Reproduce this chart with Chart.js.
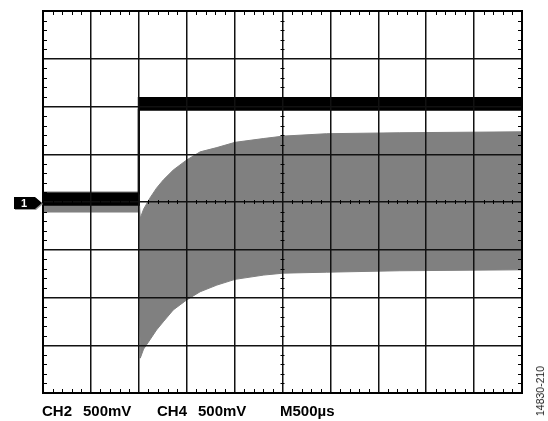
<!DOCTYPE html>
<html>
<head>
<meta charset="utf-8">
<script src="https://cdn.jsdelivr.net/npm/chart.js@4.4.1/dist/chart.umd.min.js"></script>
<style>
  body { margin: 0; background: #fff; }
  #wrap { position: relative; width: 548px; height: 421px; }
  .lbl { position: absolute; font-family: "Liberation Sans", Arial, sans-serif; font-weight: bold; font-size: 15px; color: #000; top: 402px; white-space: nowrap; }
  #figno { position: absolute; left: 540px; top: 391px; font-family: "Liberation Sans", Arial, sans-serif; font-size: 10.5px; color: #222;
           transform: translate(-50%, -50%) rotate(-90deg); white-space: nowrap; }
</style>
</head>
<body>
<div id="wrap">
  <canvas id="scope"></canvas>
  <div class="lbl" style="left:42px">CH2</div>
  <div class="lbl" style="left:83px">500mV</div>
  <div class="lbl" style="left:157px">CH4</div>
  <div class="lbl" style="left:198px">500mV</div>
  <div class="lbl" style="left:280px">M500µs</div>
  <div id="figno">14830-210</div>
</div>
<script>
// time in divisions (500us/div), amplitude in divisions
var ch2Time   = [0, 2.0, 2.0, 10];
var ch2Top    = [0.18, 0.18, 2.18, 2.18];
var ch2Bottom = [-0.06, -0.06, 1.93, 1.93];

var ch4Time  = [0, 2.0, 2.03, 2.1, 2.23, 2.37, 2.51, 2.72, 3.0, 3.28, 3.63, 4.01, 4.61, 5.02, 5.92, 7.45, 10];
var ch4Upper = [0.21, 0.21, -0.34, -0.15, 0.08, 0.29, 0.46, 0.67, 0.88, 1.05, 1.14, 1.25, 1.33, 1.38, 1.43, 1.45, 1.47];
var ch4Lower = [-0.21, -0.21, -3.27, -3.08, -2.89, -2.68, -2.51, -2.26, -2.05, -1.88, -1.74, -1.62, -1.53, -1.49, -1.47, -1.44, -1.42];

var pts = (xs, ys) => xs.map((x, i) => ({ x: x, y: ys[i] }));

var scopeDecor = {
  id: 'scopeDecor',
  afterDraw: (chart) => {
    var ctx = chart.ctx, a = chart.chartArea;
    var sx = chart.scales.x, sy = chart.scales.y;
    ctx.save();
    // frame
    ctx.strokeStyle = '#000';
    ctx.lineWidth = 2;
    ctx.strokeRect(a.left, a.top, a.right - a.left, a.bottom - a.top);
    // minor ticks (5 per division)
    ctx.lineWidth = 1;
    ctx.beginPath();
    var y0 = sy.getPixelForValue(0), x0 = sx.getPixelForValue(5);
    for (var i = 0; i <= 50; i++) {
      if (i % 5 === 0) continue;
      var px = Math.round(sx.getPixelForValue(i / 5)) + 0.5;
      ctx.moveTo(px, a.top); ctx.lineTo(px, a.top + 4);
      ctx.moveTo(px, a.bottom); ctx.lineTo(px, a.bottom - 4);
      ctx.moveTo(px, y0 - 2); ctx.lineTo(px, y0 + 2);
    }
    for (var j = -20; j <= 20; j++) {
      if (j % 5 === 0) continue;
      var py = Math.round(sy.getPixelForValue(j / 5)) + 0.5;
      ctx.moveTo(a.left, py); ctx.lineTo(a.left + 4, py);
      ctx.moveTo(a.right, py); ctx.lineTo(a.right - 4, py);
      ctx.moveTo(x0 - 2, py); ctx.lineTo(x0 + 2, py);
    }
    ctx.stroke();
    // channel 1 marker
    var tip = a.left - 1, my = y0 + 1;
    var shape = (dx, dy) => {
      ctx.beginPath();
      ctx.moveTo(14 + dx, my - 6 + dy);
      ctx.lineTo(tip - 7 + dx, my - 6 + dy);
      ctx.lineTo(tip + dx, my + dy);
      ctx.lineTo(tip - 7 + dx, my + 6 + dy);
      ctx.lineTo(14 + dx, my + 6 + dy);
      ctx.closePath();
      ctx.fill();
    };
    ctx.fillStyle = '#999';
    shape(1, 1);
    ctx.fillStyle = '#000';
    shape(0, 0);
    ctx.fillStyle = '#fff';
    ctx.font = 'bold 11px "Liberation Sans", Arial, sans-serif';
    ctx.textAlign = 'center';
    ctx.textBaseline = 'middle';
    ctx.fillText('1', 24, my + 1);
    ctx.restore();
  }
};

var gridOpts = { color: '#111', lineWidth: 1.5, drawTicks: false, z: 1 };

new Chart(document.getElementById('scope').getContext('2d'), {
  type: 'line',
  data: {
    datasets: [
      { data: pts(ch2Time, ch2Top), borderColor: '#000', borderWidth: 2, backgroundColor: '#000', fill: '+1' },
      { data: pts(ch2Time, ch2Bottom), borderColor: '#000', borderWidth: 2, fill: false },
      { data: pts(ch4Time, ch4Upper), borderColor: '#808080', borderWidth: 1, backgroundColor: '#808080', fill: '+1' },
      { data: pts(ch4Time, ch4Lower), borderColor: '#808080', borderWidth: 1, fill: false },
    ],
  },
  options: {
    responsive: true,
    maintainAspectRatio: false,
    animation: false,
    layout: { padding: { left: 43, right: 26, top: 11, bottom: 28 } },
    elements: { point: { radius: 0 }, line: { tension: 0 } },
    scales: {
      x: {
        type: 'linear', min: 0, max: 10,
        ticks: { display: false, stepSize: 1 },
        grid: gridOpts,
        border: { display: true, color: '#000', width: 2, z: 1 },
      },
      y: {
        type: 'linear', min: -4, max: 4,
        ticks: { display: false, stepSize: 1 },
        grid: gridOpts,
        border: { display: true, color: '#000', width: 2, z: 1 },
      },
    },
    plugins: {
      legend: { display: false },
      tooltip: { enabled: false },
    },
  },
  plugins: [scopeDecor],
});
</script>
</body>
</html>
